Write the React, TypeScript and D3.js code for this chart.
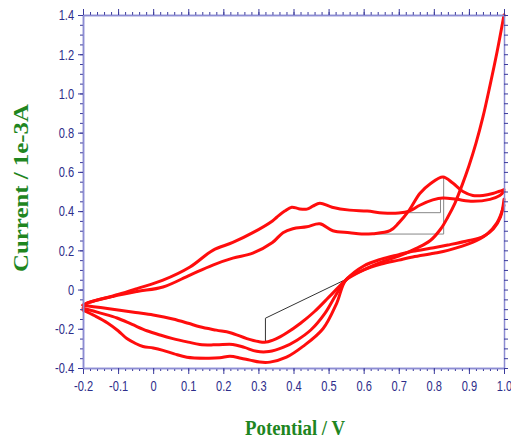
import React, { useEffect, useRef } from 'react';
import * as d3 from 'd3';

// Tick labels
const X_TICKS = [-0.2, -0.1, 0, 0.1, 0.2, 0.3, 0.4, 0.5, 0.6, 0.7, 0.8, 0.9, 1.0];
const Y_TICKS = [-0.4, -0.2, 0, 0.2, 0.4, 0.6, 0.8, 1.0, 1.2, 1.4];

// Forward scans [potential V, current 1e-3 A]
const scan1Fwd: [number, number][] = [
  [-0.2, -0.08], [-0.15, -0.092], [-0.095, -0.105], [-0.05, -0.117], [0.0, -0.13], [0.056, -0.15],
  [0.1, -0.172], [0.133, -0.19], [0.18, -0.207], [0.22, -0.22], [0.267, -0.25], [0.3, -0.265],
  [0.322, -0.268], [0.35, -0.252], [0.38, -0.222], [0.42, -0.172], [0.46, -0.112], [0.5, -0.04],
  [0.53, 0.015], [0.55, 0.05], [0.6, 0.1], [0.65, 0.14], [0.7, 0.17], [0.75, 0.21], [0.79, 0.25],
  [0.82, 0.31], [0.84, 0.37], [0.86, 0.44], [0.88, 0.53], [0.9, 0.63], [0.92, 0.745], [0.94, 0.88],
  [0.96, 1.04], [0.98, 1.21], [1.0, 1.4]
];
const scan2Fwd: [number, number][] = [
  [-0.2, -0.095], [-0.15, -0.12], [-0.103, -0.145], [-0.06, -0.178], [-0.018, -0.21], [0.02, -0.232],
  [0.056, -0.25], [0.1, -0.268], [0.133, -0.28], [0.18, -0.282], [0.227, -0.28], [0.26, -0.295],
  [0.295, -0.315], [0.33, -0.316], [0.37, -0.295], [0.41, -0.258], [0.45, -0.205], [0.49, -0.12],
  [0.52, -0.03], [0.55, 0.05], [0.6, 0.12], [0.65, 0.155], [0.7, 0.178], [0.74, 0.195], [0.8, 0.213],
  [0.84, 0.227], [0.9, 0.25], [0.94, 0.27], [0.97, 0.31], [0.99, 0.37], [1.0, 0.46]
];
const scan3Fwd: [number, number][] = [
  [-0.2, -0.105], [-0.165, -0.135], [-0.13, -0.17], [-0.1, -0.21], [-0.075, -0.25], [-0.05, -0.275],
  [-0.029, -0.29], [0.0, -0.298], [0.028, -0.31], [0.06, -0.328], [0.096, -0.345], [0.153, -0.35],
  [0.19, -0.348], [0.219, -0.34], [0.25, -0.35], [0.276, -0.36], [0.304, -0.37], [0.333, -0.37],
  [0.38, -0.345], [0.427, -0.29], [0.484, -0.2], [0.523, -0.07], [0.55, 0.05], [0.6, 0.1],
  [0.65, 0.13], [0.7, 0.15], [0.74, 0.166], [0.8, 0.185], [0.84, 0.2], [0.91, 0.24], [0.95, 0.28],
  [0.98, 0.34], [1.0, 0.43]
];

// Reverse scans
const scan1Rev: [number, number][] = [
  [1.0, 0.51], [0.985, 0.5], [0.968, 0.49], [0.94, 0.48], [0.911, 0.48], [0.883, 0.5], [0.854, 0.543],
  [0.826, 0.574], [0.79, 0.54], [0.76, 0.49], [0.73, 0.405], [0.7, 0.34], [0.675, 0.3], [0.626, 0.285],
  [0.594, 0.283], [0.56, 0.29], [0.512, 0.3], [0.475, 0.335], [0.438, 0.32], [0.398, 0.31],
  [0.37, 0.29], [0.34, 0.24], [0.284, 0.186], [0.227, 0.16], [0.17, 0.125], [0.105, 0.074],
  [0.028, 0.013], [-0.046, -0.01], [-0.115, -0.035], [-0.19, -0.07], [-0.2, -0.08]
];
const scan2Rev: [number, number][] = [
  [1.0, 0.5], [0.988, 0.48], [0.96, 0.46], [0.911, 0.45], [0.865, 0.46], [0.826, 0.467], [0.797, 0.457],
  [0.76, 0.43], [0.73, 0.4], [0.7, 0.39], [0.655, 0.39], [0.61, 0.4], [0.56, 0.405], [0.51, 0.42],
  [0.475, 0.44], [0.455, 0.425], [0.438, 0.41], [0.415, 0.412], [0.395, 0.42], [0.375, 0.4],
  [0.353, 0.37], [0.34, 0.35], [0.284, 0.29], [0.227, 0.24], [0.17, 0.2], [0.105, 0.115],
  [0.028, 0.048], [-0.046, 0.005], [-0.1, -0.025], [-0.19, -0.07], [-0.2, -0.08]
];

// Peak baseline markers
const cathodicMarker: [number, number][] = [[0.32, -0.268], [0.32, -0.146], [0.545, 0.048]];
const anodicMarker1: [number, number][] = [[0.669, 0.392], [0.819, 0.392], [0.819, 0.46]];
const anodicMarker2: [number, number][] = [[0.594, 0.283], [0.828, 0.283], [0.828, 0.569]];

const CURVES = [scan1Fwd, scan2Fwd, scan3Fwd, scan1Rev, scan2Rev];
const MARKERS = [cathodicMarker, anodicMarker1, anodicMarker2];

const W = 511, H = 439;
const margin = { top: 15, right: 7, bottom: 71, left: 83 };

const AXIS_COLOR = '#8c8cd2';
const TICK_COLOR = '#3a3a9c';
const LABEL_COLOR = '#2d2d8a';
const TITLE_COLOR = '#1f861f';

export default function App() {
  const ref = useRef<SVGGElement>(null);

  const x = d3.scaleLinear().domain([-0.2, 1.0]).range([margin.left, W - margin.right]);
  const y = d3.scaleLinear().domain([-0.4, 1.4]).range([H - margin.bottom, margin.top]);

  const line = d3.line<[number, number]>()
    .x(d => x(d[0]))
    .y(d => y(d[1]))
    .curve(d3.curveCatmullRom.alpha(0.5));
  const straight = d3.line<[number, number]>().x(d => x(d[0])).y(d => y(d[1]));

  useEffect(() => {
    const g = d3.select(ref.current);
    g.selectAll('*').remove();

    const minorX = d3.range(-10, 51).map(i => i / 50);
    const minorY = d3.range(-8, 29).map(i => i / 20);
    // plain hyphen for negatives, like the original
    const fmt = (d: number) => (Math.abs(d) < 1e-9 ? '0' : d.toFixed(1));
    const bottom = H - margin.bottom;
    const right = W - margin.right;

    const style = (sel: any) => {
      sel.select('.domain').attr('stroke', AXIS_COLOR).attr('stroke-width', 1.5);
      sel.selectAll('.tick line').attr('stroke', TICK_COLOR).attr('stroke-width', 1);
      sel.selectAll('.tick text')
        .attr('fill', LABEL_COLOR)
        .attr('transform', 'scale(0.74,1)')
        .style('font-family', '"Liberation Sans", Arial, sans-serif')
        .style('font-size', '15px');
    };

    // bottom
    g.append('g').attr('transform', `translate(0,${bottom})`)
      .call(d3.axisBottom(x).tickValues(minorX).tickSize(3).tickSizeOuter(0).tickFormat(() => ''))
      .call(style);
    g.append('g').attr('transform', `translate(0,${bottom})`)
      .call(d3.axisBottom(x).tickValues(X_TICKS).tickSize(6).tickSizeOuter(0).tickPadding(6).tickFormat(fmt as any))
      .call(style);
    // top
    g.append('g').attr('transform', `translate(0,${margin.top})`)
      .call(d3.axisTop(x).tickValues(minorX).tickSize(3).tickSizeOuter(0).tickFormat(() => ''))
      .call(style);
    g.append('g').attr('transform', `translate(0,${margin.top})`)
      .call(d3.axisTop(x).tickValues(X_TICKS).tickSize(6).tickSizeOuter(0).tickFormat(() => ''))
      .call(style);
    // left
    g.append('g').attr('transform', `translate(${margin.left},0)`)
      .call(d3.axisLeft(y).tickValues(minorY).tickSize(3).tickSizeOuter(0).tickFormat(() => ''))
      .call(style);
    g.append('g').attr('transform', `translate(${margin.left},0)`)
      .call(d3.axisLeft(y).tickValues(Y_TICKS).tickSize(5).tickSizeOuter(0).tickPadding(7).tickFormat(fmt as any))
      .call(style);
    // right
    g.append('g').attr('transform', `translate(${right},0)`)
      .call(d3.axisRight(y).tickValues(minorY).tickSize(4).tickSizeOuter(0).tickFormat(() => ''))
      .call(style);
  }, []);

  return (
    <svg width={W} height={H} style={{ position: 'absolute', left: 0, top: 0, background: '#fff' }}>
      {MARKERS.map((m, i) => (
        <path key={'m' + i} d={straight(m) || ''} fill="none"
          stroke={i === 0 ? '#333' : '#888'} strokeWidth={1} />
      ))}
      {CURVES.map((c, i) => (
        <path key={'c' + i} d={line(c) || ''} fill="none" stroke="#ff0d0d"
          strokeWidth={3} strokeLinejoin="round" strokeLinecap="round" />
      ))}
      <g ref={ref} />
      <text transform="translate(21,188) rotate(-90)" textAnchor="middle" dominantBaseline="central"
        fill={TITLE_COLOR} fontFamily='"Liberation Serif", "Times New Roman", serif' fontWeight="bold"
        fontSize={20} textLength={168} lengthAdjust="spacingAndGlyphs">
        Current / 1e-3A
      </text>
      <text x={295} y={435} textAnchor="middle" fill={TITLE_COLOR}
        fontFamily='"Liberation Serif", "Times New Roman", serif' fontWeight="bold"
        fontSize={20} textLength={100} lengthAdjust="spacingAndGlyphs">
        Potential / V
      </text>
    </svg>
  );
}
